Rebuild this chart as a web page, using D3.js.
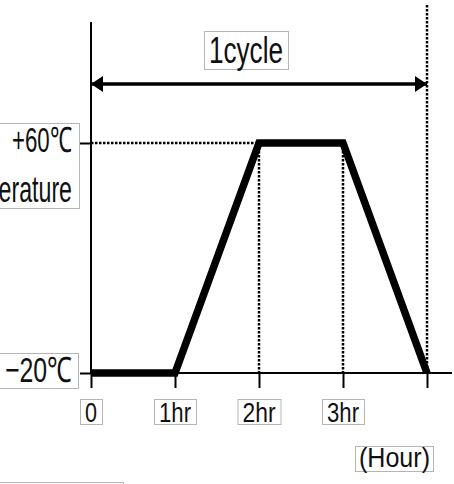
<!DOCTYPE html>
<html>
<head>
<meta charset="utf-8">
<script src="https://cdn.jsdelivr.net/npm/d3@7"></script>
<style>
  body { margin: 0; background: #fff; }
  svg text { font-family: "Liberation Sans Narrow", "Liberation Sans", Arial, sans-serif; fill: #111; }
</style>
</head>
<body>
<div id="chart"></div>
<script>
var W = 454, H = 484;

// data
var hours = [0, 1, 2, 3, 4];
var temps = [-20, -20, 60, 60, -20];
var xTickValues = [0, 1, 2, 3, 4];
var xTickLabels = ["0", "1hr", "2hr", "3hr"];
var yTickValues = [-20, 60];
var yTickLabels = ["\u221220\u2103", "+60\u2103"];

var svg = d3.select("#chart").append("svg")
  .attr("width", W)
  .attr("height", H);

var x = d3.scaleLinear().domain([0, 4]).range([91, 427]);
var y = d3.scaleLinear().domain([-20, 60]).range([373, 143]);

var defs = svg.append("defs");
defs.append("marker")
  .attr("id", "head")
  .attr("viewBox", "0 0 12 16")
  .attr("refX", 12).attr("refY", 8)
  .attr("markerWidth", 12).attr("markerHeight", 16)
  .attr("markerUnits", "userSpaceOnUse")
  .attr("orient", "auto-start-reverse")
  .append("path")
  .attr("d", "M0 0 L12 8 L0 16 Z")
  .attr("fill", "#000");

// dotted guides
var dots = svg.append("g")
  .attr("stroke", "#000")
  .attr("stroke-width", 2.5)
  .attr("stroke-dasharray", "2.5,1.5")
  .attr("fill", "none");

dots.append("line")
  .attr("x1", x(0)).attr("x2", x(2))
  .attr("y1", y(60)).attr("y2", y(60));
[2, 3].forEach(function(h) {
  dots.append("line")
    .attr("x1", x(h)).attr("x2", x(h))
    .attr("y1", y(60)).attr("y2", y(-20));
});
dots.append("line")
  .attr("x1", x(4)).attr("x2", x(4))
  .attr("y1", 5).attr("y2", y(-20));

// axes lines
svg.append("line")
  .attr("x1", x(0)).attr("x2", x(0))
  .attr("y1", 22).attr("y2", y(-20))
  .attr("stroke", "#000").attr("stroke-width", 2);
svg.append("line")
  .attr("x1", x(0)).attr("x2", 452)
  .attr("y1", y(-20)).attr("y2", y(-20))
  .attr("stroke", "#000").attr("stroke-width", 2);

// ticks
var xAxis = svg.append("g")
  .attr("transform", "translate(0," + y(-20) + ")")
  .call(d3.axisBottom(x).tickValues(xTickValues).tickSize(15).tickFormat(""));
xAxis.select(".domain").remove();
xAxis.selectAll(".tick line").attr("stroke", "#000").attr("stroke-width", 2);

var yAxis = svg.append("g")
  .attr("transform", "translate(" + x(0) + ",0)")
  .call(d3.axisLeft(y).tickValues(yTickValues).tickSize(11).tickFormat(""));
yAxis.select(".domain").remove();
yAxis.selectAll(".tick line").attr("stroke", "#000").attr("stroke-width", 2);

// temperature profile
var line = d3.line()
  .x(function(d, i) { return x(hours[i]); })
  .y(function(d) { return y(d); });

svg.append("path")
  .datum(temps)
  .attr("d", line)
  .attr("fill", "none")
  .attr("stroke", "#000")
  .attr("stroke-width", 7.5)
  .attr("stroke-linejoin", "miter");

// 1 cycle arrow
svg.append("line")
  .attr("x1", x(0)).attr("x2", x(4))
  .attr("y1", 84).attr("y2", 84)
  .attr("stroke", "#000")
  .attr("stroke-width", 3.5)
  .attr("marker-start", "url(#head)")
  .attr("marker-end", "url(#head)");

// boxed labels
function box(x0, y0, x1, y1) {
  svg.append("rect")
    .attr("x", x0 + 0.5).attr("y", y0 + 0.5)
    .attr("width", x1 - x0).attr("height", y1 - y0)
    .attr("fill", "#fff")
    .attr("stroke", "#b5b5b5")
    .attr("stroke-width", 1);
}
function label(tx, ty, txt, size, len, anchor) {
  return svg.append("text")
    .attr("x", tx).attr("y", ty)
    .attr("font-size", size)
    .attr("text-anchor", anchor || "start")
    .attr("textLength", len)
    .attr("lengthAdjust", "spacingAndGlyphs")
    .text(txt);
}

box(204, 31, 288, 69);
label(209, 63, "1cycle", 36, 74);

// y labels
box(-1, y(60) - 20, 79, 208);
label(72, y(60) + 9, yTickLabels[1], 35, 60, "end");
label(72, 202, "Temperature", 36, 130, "end");

box(-1, y(-20) - 20, 78, y(-20) + 15);
label(72, y(-20) + 9, yTickLabels[0], 35, 67, "end");

// x labels
var tickWidths = [12, 32, 33, 32];
xTickLabels.forEach(function(t, i) {
  var cx = x(xTickValues[i]);
  var tw = tickWidths[i];
  box(cx - tw / 2 - 5, 399, cx + tw / 2 + 5, 424);
  label(cx - tw / 2, 422, t, 28, tw);
});

box(355, 446, 433, 471);
label(359, 467, "(Hour)", 28, 71);

// partial box at bottom left
box(-1, 482, 123, 500);
</script>
</body>
</html>
